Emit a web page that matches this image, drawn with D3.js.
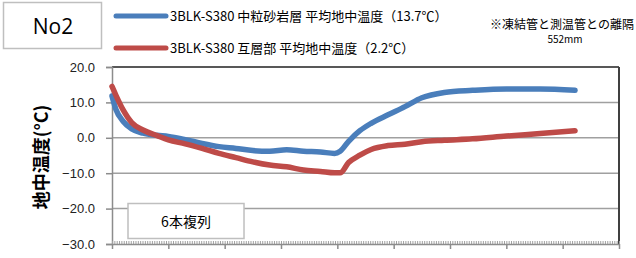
<!DOCTYPE html>
<html>
<head>
<meta charset="utf-8">
<script src="https://cdn.jsdelivr.net/npm/d3@7"></script>
<style>
  body { margin: 0; background: #fff; }
  svg { display: block; font-family: "Noto Sans CJK JP", "Noto Sans", sans-serif; }
</style>
</head>
<body>
<svg id="chart" width="636" height="258"></svg>
<script>
// elapsed days
const days = [0, 0.07, 0.2, 0.35, 0.55, 0.8, 1.0, 1.3, 1.6, 1.9, 2.2, 2.5, 2.8, 3.1, 3.4, 3.7,
  3.95, 4.05, 4.2, 4.4, 4.6, 4.9, 5.2, 5.5, 5.9, 6.4, 7.0, 7.6, 8.22];
const sandstone = [11.8, 8.0, 4.6, 2.5, 1.3, 0.7, 0.4, -0.5, -1.6, -2.5, -3.0, -3.6, -3.8, -3.4, -3.8, -4.0,
  -4.4, -3.8, -1.0, 2.0, 4.1, 6.5, 8.8, 11.3, 12.8, 13.4, 13.8, 13.8, 13.4];
const interlayer = [14.5, 12.0, 7.8, 4.3, 2.2, 0.6, -0.6, -1.7, -3.0, -4.4, -5.6, -6.8, -7.7, -8.2, -9.1, -9.5,
  -9.9, -9.9, -7.0, -4.9, -3.3, -2.2, -1.8, -1.1, -0.7, -0.3, 0.5, 1.2, 2.0];
const seriesNames = ['3BLK-S380 中粒砂岩層 平均地中温度（13.7℃）', '3BLK-S380 互層部 平均地中温度（2.2℃）'];
const seriesColors = ['#4a7ebb', '#be4b48'];
const yTicks = [20, 10, 0, -10, -20, -30];

const svg = d3.select('#chart');
const m = { left: 112, right: 619, top: 67, bottom: 244 };

const x = d3.scaleLinear().domain([0, 9]).range([m.left, m.right]);
const y = d3.scaleLinear().domain([-30, 20]).range([m.bottom, m.top]);

// gridlines
svg.append('g').selectAll('line')
  .data(yTicks.filter(t => t > -30 && t < 20)).enter()
  .append('line')
  .attr('x1', m.left).attr('x2', m.right)
  .attr('y1', d => y(d)).attr('y2', d => y(d))
  .attr('stroke', '#a0a0a0').attr('stroke-width', 1.5);

// top and right border
svg.append('line').attr('x1', m.left).attr('x2', m.right)
  .attr('y1', m.top).attr('y2', m.top).attr('stroke', '#202020').attr('stroke-width', 1.5);
svg.append('line').attr('x1', m.right).attr('x2', m.right)
  .attr('y1', m.top).attr('y2', m.bottom).attr('stroke', '#404040').attr('stroke-width', 2);

// y axis
const yAxis = d3.axisLeft(y).tickValues(yTicks).tickSize(6).tickPadding(11)
  .tickFormat(d3.format('.1f'));
const yg = svg.append('g').attr('transform', `translate(${m.left},0)`).call(yAxis);
yg.select('.domain').attr('stroke', '#8c8c8c').attr('stroke-width', 1.5);
yg.selectAll('.tick line').attr('stroke', '#8c8c8c').attr('stroke-width', 1.5);
yg.selectAll('.tick text').attr('font-size', 13).attr('fill', '#222')
  .attr('font-family', '"Liberation Sans", Arial, sans-serif');

// x axis: minor hourly ticks, major daily ticks
const minor = d3.range(0, 9 * 24 + 1).map(h => h / 24);
const xMinor = d3.axisTop(x).tickValues(minor).tickSize(3).tickFormat('');
const xm = svg.append('g').attr('transform', `translate(0,${m.bottom})`).call(xMinor);
xm.select('.domain').remove();
xm.selectAll('.tick line').attr('stroke', '#a0a0a0').attr('stroke-width', 1);
const xAxis = d3.axisBottom(x).tickValues(d3.range(0, 10)).tickSize(5).tickSizeOuter(0).tickFormat('');
const xg = svg.append('g').attr('transform', `translate(0,${m.bottom})`).call(xAxis);
xg.select('.domain').attr('stroke', '#8c8c8c').attr('stroke-width', 1.5);
xg.selectAll('.tick line').attr('stroke', '#8c8c8c').attr('stroke-width', 1.5);

// series
const line = d3.line().x((d, i) => x(days[i])).y(d => y(d)).curve(d3.curveMonotoneX);
[sandstone, interlayer].forEach((vals, k) => {
  svg.append('path').datum(vals)
    .attr('d', line)
    .attr('fill', 'none')
    .attr('stroke', seriesColors[k])
    .attr('stroke-width', 5.5)
    .attr('stroke-linecap', 'round')
    .attr('stroke-linejoin', 'round');
});

// y label
svg.append('text')
  .attr('transform', 'translate(48,157) rotate(-90)')
  .attr('text-anchor', 'middle')
  .attr('font-size', 18).attr('font-weight', 'bold').attr('fill', '#000')
  .text('地中温度(°C)');

// No2 box
svg.append('rect').attr('x', 3.5).attr('y', 2.5).attr('width', 98).attr('height', 46)
  .attr('fill', '#fff').attr('stroke', '#bfbfbf').attr('stroke-width', 1.5);
svg.append('text').attr('x', 53).attr('y', 34).attr('text-anchor', 'middle')
  .attr('font-size', 21).attr('fill', '#000')
  .attr('font-family', '"Open Sans", "Noto Sans", sans-serif')
  .text('No2');

// legend
const legend = svg.append('g');
seriesNames.forEach((name, k) => {
  const ly = k === 0 ? 16 : 48;
  legend.append('line').attr('x1', 116).attr('x2', 166).attr('y1', ly).attr('y2', ly)
    .attr('stroke', seriesColors[k]).attr('stroke-width', 5).attr('stroke-linecap', 'round');
  legend.append('text').attr('x', 170).attr('y', ly + 5)
    .attr('font-size', 13).attr('fill', '#000').text(name);
});

// note
svg.append('text').attr('x', 562).attr('y', 29).attr('text-anchor', 'middle')
  .attr('font-size', 12).attr('fill', '#000').text('※凍結管と測温管との離隔');
svg.append('text').attr('x', 565).attr('y', 43).attr('text-anchor', 'middle')
  .attr('font-size', 10).attr('fill', '#000').text('552mm');

// 6本複列 box
svg.append('rect').attr('x', 128).attr('y', 203.5).attr('width', 116).attr('height', 35)
  .attr('fill', '#fff').attr('stroke', '#bfbfbf').attr('stroke-width', 1.5);
svg.append('text').attr('x', 186).attr('y', 227).attr('text-anchor', 'middle')
  .attr('font-size', 14).attr('fill', '#000').text('6本複列');
</script>
</body>
</html>
